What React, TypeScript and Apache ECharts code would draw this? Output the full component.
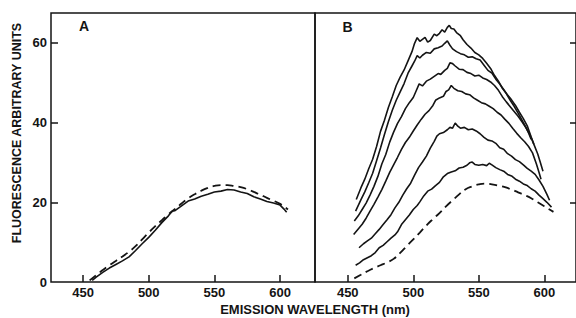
import React, { useEffect, useRef } from "react";
import * as echarts from "echarts";

type Pt = [number, number];

const xTickValues = [450, 500, 550, 600];
const yLabelValues = [0, 20, 40, 60];
const yTickValues = [20, 40, 60];

const yAxisTitle = "FLUORESCENCE ARBITRARY UNITS";
const xAxisTitle = "EMISSION WAVELENGTH (nm)";
const panelLabels = ["A", "B"];

// Panel A
const aSolid: Pt[] = [[457,0.4],[460,1.2],[465,2.4],[470,3.5],[475,4.4],[480,5.3],[485,6.3],[490,7.9],[495,9.6],[500,11.2],[505,13],[510,14.9],[515,16.6],[518,17.8],[520,17.9],[525,19.1],[530,20.3],[535,20.8],[540,21.5],[545,22],[550,22.6],[555,22.8],[560,23.2],[565,23.1],[570,22.6],[575,22.2],[580,21.4],[585,20.8],[590,20.2],[595,19.8],[600,19.3],[603,18.3],[605,17.5]];
const aDashed: Pt[] = [[455,0.4],[460,1.7],[465,3],[470,4.2],[475,5.3],[480,6.4],[485,7.6],[490,9],[495,10.7],[500,12.4],[505,14],[510,15.5],[515,17],[520,18.3],[525,19.7],[530,21],[535,22],[540,22.9],[545,23.6],[550,24.1],[555,24.3],[560,24.3],[565,24.1],[570,23.8],[575,23.3],[580,22.6],[585,21.9],[590,21.1],[595,20.4],[600,19.6],[606,18.2]];

// Panel B
const bCurve1: Pt[] = [[456.5,20.7],[460,23.6],[463,25.8],[466,28.4],[469,30.8],[472,34],[475,37.8],[478,40.6],[481,43.8],[484,46.5],[487,49.3],[490,51.4],[493,53.2],[496,55.5],[499,57.8],[501,59.9],[503,61.3],[505,60.4],[507,60.9],[509,61.4],[511,60.2],[513,60.6],[516,62.2],[518,61.8],[520,62.4],[522,63.3],[524,62.7],[526,63.9],[527.5,64.4],[529,63.6],[531,63.5],[533,62.6],[536,61.8],[538,60.8],[541,59.6],[544,58.7],[547,57.6],[550,57],[553,56.1],[556,54.9],[559,53.6],[562,51.8],[565,50.4],[568,48.6],[571,47.3],[574,45.6],[577,44.1],[580,42.4],[583,40.6],[586,38.8],[588,37.4],[590,35.8]];
const bCurve2: Pt[] = [[456,17.8],[460,20.6],[463,22.6],[466,24.9],[469,27.3],[472,30.4],[475,33.6],[478,37],[481,40.2],[484,43.1],[487,45.6],[490,47.7],[493,49.8],[496,52.4],[499,54.2],[501,55.4],[503,56.8],[505,56.2],[507,56.9],[510,57.6],[513,57.4],[516,58.5],[519,58.8],[522,59.2],[524,59.9],[526,60.5],[528,59.4],[530,58.5],[533,57.8],[536,57.3],[539,57],[542,56.4],[545,56.5],[548,56],[551,55.7],[554,54.4],[557,53.1],[560,52.4],[563,50.9],[566,49.7],[569,48.3],[572,46.9],[575,45.7],[578,44.3],[581,42.6],[584,41],[587,39.2],[590,36.4],[592,34.6]];
const bCurve3: Pt[] = [[455,15.3],[458,16.6],[461,18.2],[464,19.8],[467,21.8],[470,24],[473,26.5],[476,29.6],[479,32],[482,35.1],[485,37.6],[488,39.8],[491,41.5],[494,43.5],[497,45],[500,46.3],[502,47.8],[504.5,49.7],[507,49.2],[510,50.4],[513,50.9],[516,51.6],[519,52.3],[521,52.1],[524,53.1],[526,53.6],[528,55],[530,54.8],[532,54.2],[535,53.4],[538,53.3],[541,52.6],[544,52.3],[547,51.7],[550,51.9],[553,51.2],[556,50.8],[559,50.2],[562,49.3],[565,48.1],[568,46.5],[571,45.2],[574,44],[577,42.8],[580,41.6],[583,40.2],[586,38.7],[589,37],[592,34.6],[595,32.1],[597,30],[599,27.8]];
const bCurve4: Pt[] = [[454.5,11.9],[458,13.3],[461,14.5],[464,16],[467,17.8],[470,19.5],[473,21.3],[476,23.2],[479,25.3],[482,27.5],[485,29.4],[488,31.3],[491,33.3],[494,35],[497,36.3],[500,37.9],[503,39.4],[506,40.8],[509,42.1],[512,43],[515,44.3],[517,45.6],[520,46.2],[523,46.6],[525,47.8],[527,48.2],[529,49.3],[531,48.6],[534,48],[537,47.8],[540,47.2],[543,47],[546,46.2],[549,45.6],[552,45],[555,44.7],[558,44.1],[561,43.5],[564,42.6],[567,41.9],[570,40.8],[573,39.8],[576,38.5],[579,37.3],[582,36.2],[585,35.2],[588,34],[591,32.4],[594,29.6],[596,27.5],[597.5,25.8]];
const bCurve5: Pt[] = [[458.6,8.6],[462,9.6],[465,10.3],[468,11],[471,12.1],[474,13.2],[477,14.4],[480,15.6],[483,16.9],[486,18.6],[489,20],[492,21.8],[495,23.4],[498,24.8],[501,26.8],[504,28.7],[507,30.1],[510,31.6],[513,33.6],[516,35.3],[518,36.6],[520,37.2],[523,37.5],[526,38.2],[528,38.8],[530,38.6],[532,39.9],[534,39.1],[536,38.6],[539,38.8],[542,38.2],[545,38.4],[548,37.9],[551,37.2],[554,36.3],[557,35.6],[560,35.4],[563,34.8],[566,33.7],[569,33.3],[572,32.2],[575,31.6],[578,30.7],[581,30.2],[584,29.4],[587,28.5],[590,27.8],[593,27],[596,25.6],[599,24],[602,22],[604,20.5]];
const bCurve6: Pt[] = [[456,4.2],[459,4.8],[462,5.6],[465,6.1],[468,6.6],[471,7.4],[474,8.6],[477,9.2],[480,10.1],[483,11],[486,11.8],[488,12.6],[491,14.4],[494,15.6],[497,16.8],[500,18.2],[503,19.2],[505,20.1],[508,21.6],[511,22.8],[514,23.3],[517,24.2],[520,25],[523,26.4],[526,27.2],[529,27.6],[532,27.9],[535,28.6],[538,28.8],[541,29.3],[543,29.9],[545,30.1],[547,29.5],[550,29.3],[553,29.5],[556,29.2],[558,29.8],[560,29.4],[563,28.7],[566,28.2],[569,27.8],[572,27],[575,26.6],[578,25.8],[581,25.3],[584,24.6],[587,24.2],[590,23.4],[593,22.8],[596,21.8],[599,20.9],[602,20],[605.5,18.8]];
const bDashed: Pt[] = [[455,0.9],[460,1.8],[465,2.7],[470,3.5],[475,4.2],[480,4.9],[485,5.8],[490,7.3],[495,9],[500,10.7],[505,12.4],[510,14.2],[515,15.8],[520,17.3],[525,19],[530,20.5],[535,22],[540,23.3],[545,24],[550,24.5],[555,24.7],[560,24.5],[565,24.2],[570,23.8],[575,23.2],[580,22.5],[585,21.8],[590,21],[595,20],[600,19],[605,18],[607,17.6]];

const INK = "#141414";
const FONT = "Liberation Sans";

export default function App() {
  const ref = useRef<HTMLDivElement>(null);
  useEffect(() => {
    if (!ref.current) return;
    const chart = echarts.init(ref.current, null, { renderer: "svg" });

    const tickLabel = {
      fontSize: 13,
      fontWeight: "bold" as const,
      fontFamily: FONT,
      color: INK,
    };

    const xAxisBase = (gridIndex: number, min: number, max: number) => ({
      type: "value" as const,
      gridIndex,
      min,
      max,
      axisLine: { show: false },
      splitLine: { show: false },
      axisTick: {
        show: true,
        inside: true,
        length: 7,
        customValues: xTickValues,
        lineStyle: { color: INK, width: 1.5 },
      },
      axisLabel: { ...tickLabel, margin: 4, customValues: xTickValues },
    });

    const solid = (data: Pt[], xi: number, yi: number) => ({
      type: "line" as const,
      xAxisIndex: xi,
      yAxisIndex: yi,
      data,
      showSymbol: false,
      symbol: "none",
      smooth: false,
      lineStyle: { color: INK, width: 1.6 },
      silent: true,
    });
    const dashed = (data: Pt[], xi: number, yi: number) => ({
      type: "line" as const,
      xAxisIndex: xi,
      yAxisIndex: yi,
      data,
      showSymbol: false,
      symbol: "none",
      smooth: true,
      lineStyle: { color: INK, width: 1.8, type: [8, 5] as number[] },
      silent: true,
    });

    chart.setOption({
      animation: false,
      backgroundColor: "#ffffff",
      grid: [
        { left: 51, top: 13, width: 264, height: 269, show: true, borderColor: INK, borderWidth: 1.5, backgroundColor: "transparent" },
        { left: 315, top: 13, width: 263, height: 269, show: true, borderColor: INK, borderWidth: 1.5, backgroundColor: "transparent" },
      ],
      xAxis: [xAxisBase(0, 425.6, 626.6), xAxisBase(1, 425, 624.2)],
      yAxis: [
        {
          type: "value",
          gridIndex: 0,
          min: 0,
          max: 67.5,
          axisLine: { show: false },
          splitLine: { show: false },
          axisTick: { show: true, inside: true, length: 7, customValues: yTickValues, lineStyle: { color: INK, width: 1.5 } },
          axisLabel: { ...tickLabel, margin: 4, customValues: yLabelValues },
        },
        {
          type: "value",
          gridIndex: 1,
          min: 0,
          max: 67.5,
          position: "right",
          axisLine: { show: false },
          splitLine: { show: false },
          axisTick: { show: true, inside: true, length: 6, customValues: yTickValues, lineStyle: { color: INK, width: 1.5 } },
          axisLabel: { show: false },
        },
      ],
      series: [
        solid(aSolid, 0, 0),
        dashed(aDashed, 0, 0),
        solid(bCurve1, 1, 1),
        solid(bCurve2, 1, 1),
        solid(bCurve3, 1, 1),
        solid(bCurve4, 1, 1),
        solid(bCurve5, 1, 1),
        solid(bCurve6, 1, 1),
        dashed(bDashed, 1, 1),
      ],
      graphic: [
        {
          type: "text",
          x: 17,
          y: 133,
          rotation: Math.PI / 2,
          style: { text: yAxisTitle, fontSize: 12.5, fontWeight: "bold", fontFamily: FONT, fill: INK, textAlign: "center", textVerticalAlign: "middle" },
        },
        {
          type: "text",
          x: 315,
          y: 309,
          style: { text: xAxisTitle, fontSize: 13, fontWeight: "bold", fontFamily: FONT, fill: INK, textAlign: "center", textVerticalAlign: "middle" },
        },
        {
          type: "text",
          x: 84,
          y: 26,
          style: { text: panelLabels[0], fontSize: 14, fontWeight: "bold", fontFamily: FONT, fill: INK, textAlign: "center", textVerticalAlign: "middle" },
        },
        {
          type: "text",
          x: 347.5,
          y: 26.5,
          style: { text: panelLabels[1], fontSize: 14, fontWeight: "bold", fontFamily: FONT, fill: INK, textAlign: "center", textVerticalAlign: "middle" },
        },
      ],
    });

    return () => chart.dispose();
  }, []);

  return <div ref={ref} style={{ position: "absolute", left: 0, top: 0, width: 576, height: 318 }} />;
}
